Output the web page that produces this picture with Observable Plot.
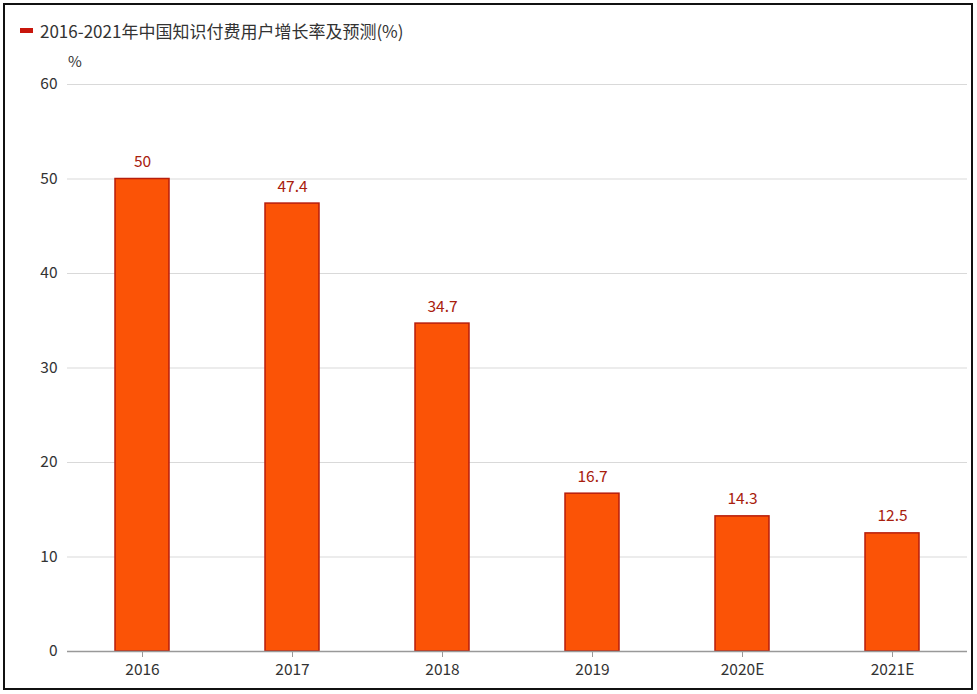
<!DOCTYPE html>
<html><head><meta charset="utf-8">
<script src="https://cdn.jsdelivr.net/npm/d3@7"></script>
<script src="https://cdn.jsdelivr.net/npm/@observablehq/plot@0.6"></script>
<style>
body{margin:0;background:#fff;font-family:"Noto Sans CJK SC","Noto Sans",sans-serif;}
#wrap{position:relative;width:977px;height:694px;overflow:hidden;}
#frame{position:absolute;left:3px;top:3px;width:966px;height:683px;border:2px solid #111;box-sizing:content-box;}
#title{position:absolute;left:20px;top:18px;font-size:17px;color:#333;display:flex;align-items:center;white-space:nowrap;}
#title .sw{display:inline-block;width:13px;height:5px;background:#c8160c;margin-right:7px;}
#unit{position:absolute;left:68px;top:50px;font-size:15px;color:#333;}
#chart{position:absolute;left:0;top:0;}
</style></head><body>
<div id="wrap">
<div id="frame"></div>
<div id="title"><span class="sw"></span>2016-2021年中国知识付费用户增长率及预测(%)</div>
<div id="unit">%</div>
<div id="chart"></div>
</div>
<script>
const years = ["2016","2017","2018","2019","2020E","2021E"];
const values = [50, 47.4, 34.7, 16.7, 14.3, 12.5];
const yTicks = [0,10,20,30,40,50,60];
const data = years.map((y,i)=>({year:y, value:values[i]}));

const plot = Plot.plot({
  width: 977, height: 694,
  marginTop: 84, marginBottom: 43, marginLeft: 67, marginRight: 10,
  style: {fontFamily: '"Noto Sans CJK SC","Noto Sans",sans-serif', fontSize: "15px", color: "#333", background: "transparent"},
  x: {domain: years, paddingInner: 0.64, paddingOuter: 0.32, label: null},
  y: {domain: [0, 60], label: null},
  marks: [
    Plot.gridY(yTicks, {stroke: "#d9d9d9", strokeOpacity: 1, strokeWidth: 1}),
    Plot.barY(data, {x: "year", y: "value", fill: "#fb5306", stroke: "#b81d0b", strokeWidth: 1.5}),
    Plot.text(data, {x: "year", y: "value", text: d => String(d.value), dy: -17, fill: "#a8200d", fontSize: 15.5}),
    Plot.ruleY([0], {stroke: "#999", strokeWidth: 1.5}),
    Plot.axisY({ticks: yTicks, tickSize: 0, tickPadding: 10, fill: "#333", fontSize: 15.5, label: null}),
    Plot.axisX({tickSize: 6, tickPadding: 6, stroke: "#999", fill: "#333", fontSize: 15.5, label: null})
  ]
});
document.getElementById("chart").appendChild(plot);
</script>
</body></html>
